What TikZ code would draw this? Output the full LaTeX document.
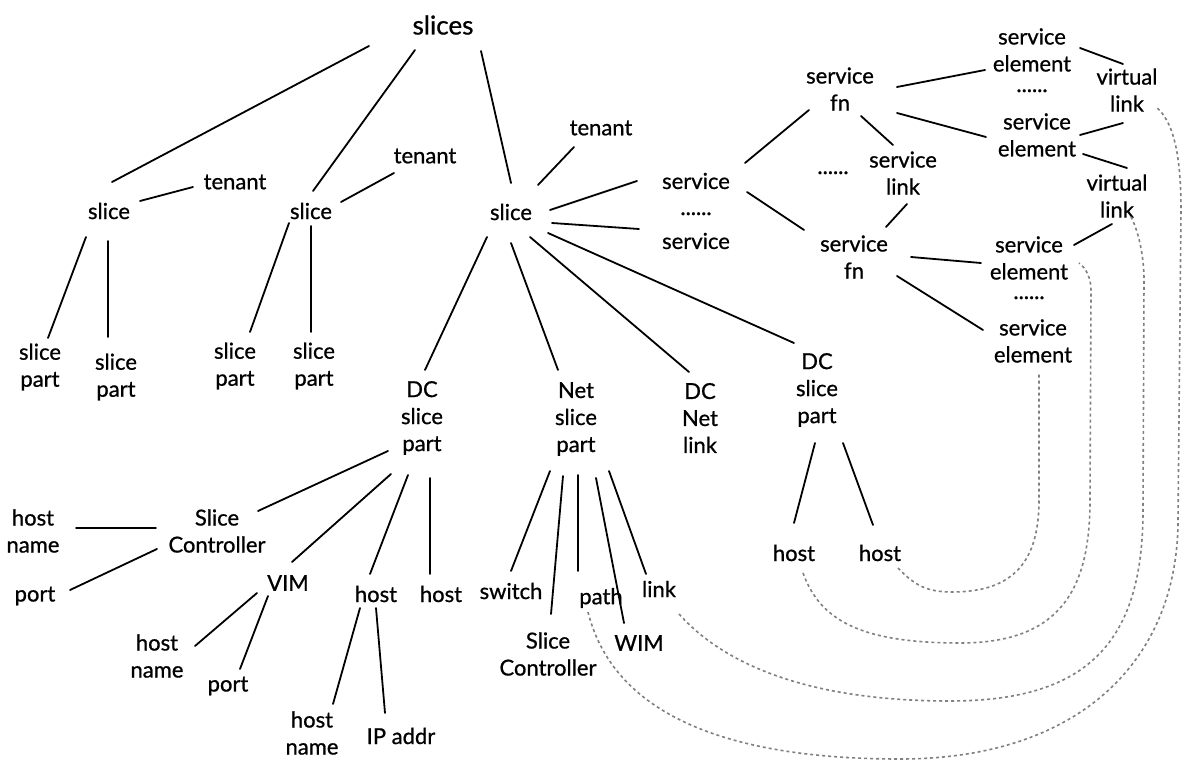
\documentclass[tikz,border=0pt]{standalone}
\usepackage{fontspec}
\setmainfont{Lato}[FakeBold=0.8]
\usetikzlibrary{calc}
\begin{document}
\begin{tikzpicture}[x=1pt,y=-1pt,
  lbl/.style={inner sep=0pt, align=center, font=\fontsize{22}{27}\selectfont},
  toplbl/.style={inner sep=0pt, font=\fontsize{26}{30}\selectfont},
  etc/.style={lbl, anchor=base},
  edge/.style={line width=1.8pt, line cap=round},
  xref/.style={line width=1.6pt, draw=black!50, dash pattern=on 3pt off 3pt}]
\useasboundingbox[fill=white] (0,0) rectangle (1192,762);

% ---- slices and their parts
\node[toplbl] (slices) at (443,25) {slices};
\node[lbl] (sl1) at (109,211) {slice};
\node[lbl] (sl2) at (311,211) {slice};
\node[lbl] (sl3) at (511,212) {slice};
\node[lbl] (ten1) at (235,182) {tenant};
\node[lbl] (ten2) at (425,156) {tenant};
\node[lbl] (ten3) at (601,128) {tenant};
\node[lbl] (sp1) at (40,367) {slice\\part};
\node[lbl] (sp2) at (116,377) {slice\\part};
\node[lbl] (sp3) at (235,366) {slice\\part};
\node[lbl] (sp4) at (314,366) {slice\\part};

% ---- services
\node[lbl] (svc1) at (696,181) {service};
\node[etc] (svcdots) at (696,215) {......};
\node[lbl] (svc2) at (696,241) {service};
\node[lbl] (sfn1) at (840,89) {service\\fn};
\node[etc] (sfndots) at (833,174) {......};
\node[lbl] (slink) at (903,173) {service\\link};
\node[lbl] (sfn2) at (854,257) {service\\fn};
\node[lbl] (se1) at (1032,50) {service\\element};
\node[etc] (sedots1) at (1032,92) {......};
\node[lbl] (se2) at (1037,135) {service\\element};
\node[lbl] (vl1) at (1127,90) {virtual\\link};
\node[lbl] (vl2) at (1117,196) {virtual\\link};
\node[lbl] (se3) at (1029,258) {service\\element};
\node[etc] (sedots2) at (1029,299) {......};
\node[lbl] (se4) at (1033,341) {service\\element};

% ---- slice parts of the third slice
\node[lbl] (dcsp) at (422,418) {DC\\slice\\part};
\node[lbl] (netsp) at (576,419) {Net\\slice\\part};
\node[lbl] (dcnet) at (700,418) {DC\\Net\\link};
\node[lbl] (dcspr) at (817,390) {DC\\slice\\part};

% ---- DC slice part contents
\node[lbl] (hn1) at (33,531) {host\\name};
\node[lbl] (sc1) at (217,531) {Slice\\Controller};
\node[lbl] (port1) at (35,596) {port};
\node[lbl] (vim) at (288,583) {VIM};
\node[lbl] (hn2) at (157,656) {host\\name};
\node[lbl] (port2) at (228,686) {port};
\node[lbl] (host1) at (376,594) {host};
\node[lbl] (host2) at (441,594) {host};
\node[lbl] (hn3) at (312,733) {host\\name};
\node[lbl] (ip) at (401,736) {IP addr};

% ---- Net slice part contents
\node[lbl] (switch) at (511,591) {switch};
\node[lbl] (sc2) at (548,654) {Slice\\Controller};
\node[lbl] (path) at (601,598) {path};
\node[lbl] (wim) at (639,643) {WIM};
\node[lbl] (link) at (659,589) {link};
\node[lbl] (hostr1) at (794,553) {host};
\node[lbl] (hostr2) at (880,553) {host};

% ---- tree edges
\draw[edge] ($(slices)+(-74,21)$) -- ($(sl1)+(3,-29)$);
\draw[edge] ($(slices)+(-28,25)$) -- ($(sl2)+(2,-20)$);
\draw[edge] ($(slices)+(38,26)$) -- ($(sl3)+(0,-29)$);
\draw[edge] ($(sl1)+(31,-10)$) -- ($(ten1)+(-42,5)$);
\draw[edge] ($(sl2)+(30,-9)$) -- ($(ten2)+(-31,17)$);
\draw[edge] ($(sl3)+(27,-27)$) -- ($(ten3)+(-27,19)$);
\draw[edge] ($(sl1)+(-23,26)$) -- ($(sp1)+(8,-29)$);
\draw[edge] ($(sl1)+(-1,30)$) -- ($(sp2)+(-8,-40)$);
\draw[edge] ($(sl2)+(-22,12)$) -- ($(sp3)+(15,-34)$);
\draw[edge] ($(sl2)+(0,15)$) -- ($(sp4)+(-3,-34)$);

\draw[edge] ($(sl3)+(39,-2)$) -- ($(svc1)+(-59,0)$);
\draw[edge] ($(sl3)+(41,11)$) -- ($(svc2)+(-57,-12)$);
\draw[edge] ($(sl3)+(37,21)$) -- ($(dcspr)+(-23,-47)$);
\draw[edge] ($(sl3)+(19,25)$) -- ($(dcnet)+(-11,-46)$);
\draw[edge] ($(sl3)+(-24,25)$) -- ($(dcsp)+(3,-48)$);
\draw[edge] ($(sl3)+(0,31)$) -- ($(netsp)+(-18,-49)$);

\draw[edge] ($(svc1)+(49,-18)$) -- ($(sfn1)+(-31,21)$);
\draw[edge] ($(svc1)+(51,11)$) -- ($(sfn2)+(-50,-27)$);
\draw[edge] ($(sfn1)+(21,27)$) -- ($(slink)+(-10,-28)$);
\draw[edge] ($(slink)+(4,31)$) -- ($(sfn2)+(32,-30)$);
\draw[edge] ($(sfn1)+(57,-2)$) -- ($(se1)+(-47,20)$);
\draw[edge] ($(sfn1)+(57,24)$) -- ($(se2)+(-51,2)$);
\draw[edge] ($(se1)+(48,-2)$) -- ($(vl1)+(-4,-26)$);
\draw[edge] ($(se2)+(43,0)$) -- ($(vl1)+(-4,33)$);
\draw[edge] ($(se2)+(46,19)$) -- ($(vl2)+(10,-28)$);
\draw[edge] ($(vl2)+(-5,28)$) -- ($(se3)+(45,-13)$);
\draw[edge] ($(sfn2)+(57,0)$) -- ($(se3)+(-48,5)$);
\draw[edge] ($(sfn2)+(43,19)$) -- ($(se4)+(-50,-11)$);

\draw[edge] ($(hn1)+(43,-3)$) -- ($(sc1)+(-61,-3)$);
\draw[edge] ($(port1)+(35,-6)$) -- ($(sc1)+(-60,18)$);
\draw[edge] ($(sc1)+(41,-20)$) -- ($(dcsp)+(-34,33)$);
\draw[edge] ($(vim)+(4,-21)$) -- ($(dcsp)+(-31,56)$);
\draw[edge] ($(host1)+(-6,-20)$) -- ($(dcsp)+(-14,57)$);
\draw[edge] ($(host2)+(-11,-20)$) -- ($(dcsp)+(8,60)$);
\draw[edge] ($(vim)+(-31,10)$) -- ($(hn2)+(38,-10)$);
\draw[edge] ($(vim)+(-20,13)$) -- ($(port2)+(12,-17)$);
\draw[edge] ($(host1)+(-16,14)$) -- ($(hn3)+(21,-29)$);
\draw[edge] ($(host1)+(0,14)$) -- ($(ip)+(-16,-23)$);

\draw[edge] ($(netsp)+(-26,52)$) -- ($(switch)+(0,-20)$);
\draw[edge] ($(netsp)+(-13,57)$) -- ($(sc2)+(3,-40)$);
\draw[edge] ($(netsp)+(2,56)$) -- ($(path)+(-23,-27)$);
\draw[edge] ($(netsp)+(20,59)$) -- ($(wim)+(-15,-20)$);
\draw[edge] ($(netsp)+(33,52)$) -- ($(link)+(-13,-15)$);
\draw[edge] ($(dcspr)+(-2,53)$) -- ($(hostr1)+(0,-30)$);
\draw[edge] ($(dcspr)+(26,53)$) -- ($(hostr2)+(-7,-28)$);

% ---- dashed cross references between layers
\draw[xref] ($(hostr2)+(18,15)$) .. controls (915,586) and (928,592) .. (952,592)
  .. controls (1015,592) and (1039,560) .. (1039,500) -- ($(se4)+(6,31)$);
\draw[xref] ($(hostr1)+(9,20)$) .. controls (820,620) and (860,643) .. (960,643)
  .. controls (1060,643) and (1090,590) .. (1090,500) -- (1091,290)
  .. controls (1091,278) and (1086,268) .. ($(se3)+(50,5)$);
\draw[xref] ($(link)+(20,25)$) .. controls (720,660) and (800,701) .. (950,701)
  .. controls (1090,701) and (1143,640) .. (1143,510) -- (1144,280)
  .. controls (1144,255) and (1138,230) .. ($(vl2)+(14,21)$);
\draw[xref] ($(path)+(-13,14)$) .. controls (610,700) and (700,759) .. (900,759)
  .. controls (1080,759) and (1178,660) .. (1178,520) -- (1181,210)
  .. controls (1181,150) and (1172,120) .. ($(vl1)+(29,17)$);
\end{tikzpicture}
\end{document}
